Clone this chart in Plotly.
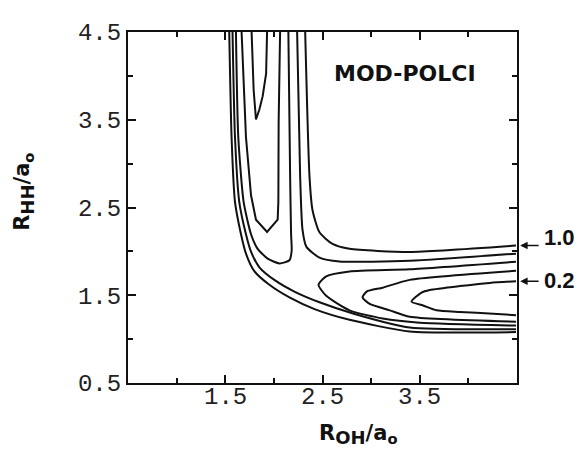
import plotly.graph_objects as go

# Contour levels (labels on the right)
label_levels = ["1.0", "0.2"]
label_y = [2.066, 1.660]
label_shift = [8, 1]

# Vertical-valley closed loops
c02v_x = [1.771, 1.781, 1.792, 1.816, 1.851, 1.885, 1.920, 1.930]
c02v_y = [4.5, 4.15, 3.839, 3.503, 3.617, 3.769, 4.024, 4.5]

c04v_x = [1.668, 1.713, 1.765, 1.816, 1.930, 2.039, 2.046, 2.049, 2.064]
c04v_y = [4.5, 3.303, 2.639, 2.361, 2.221, 2.361, 2.564, 3.470, 4.5]

c06v_x = [1.610, 1.634, 1.689, 1.765, 1.833, 1.936, 2.057, 2.160, 2.183, 2.177, 2.167, 2.149]
c06v_y = [4.5, 3.303, 2.564, 2.195, 2.029, 1.918, 1.863, 1.899, 2.010, 2.195, 2.860, 4.5]

# Horizontal-valley closed loops
c06h_x = [4.49, 3.397, 2.778, 2.538, 2.459, 2.538, 2.778, 3.119, 3.500, 4.49]
c06h_y = [1.882, 1.796, 1.771, 1.716, 1.619, 1.494, 1.328, 1.235, 1.187, 1.154]

c04h_x = [4.49, 3.397, 3.119, 2.954, 2.912, 2.985, 3.191, 3.397, 4.49]
c04h_y = [1.778, 1.675, 1.586, 1.542, 1.475, 1.401, 1.328, 1.254, 1.198]

c02h_x = [4.49, 4.222, 3.912, 3.603, 3.518, 3.415, 3.534, 3.672, 3.912, 4.256, 4.49]
c02h_y = [1.660, 1.641, 1.605, 1.560, 1.530, 1.427, 1.383, 1.328, 1.309, 1.290, 1.272]

# Inner (saddle side) open contours
c08i_x = [2.239, 2.270, 2.294, 2.335, 2.469, 2.675, 3.397, 4.49]
c08i_y = [4.5, 2.860, 2.251, 2.051, 1.929, 1.885, 1.893, 1.974]

c10i_x = [2.322, 2.366, 2.397, 2.469, 2.603, 2.778, 3.397, 4.49]
c10i_y = [4.5, 2.860, 2.472, 2.217, 2.085, 2.029, 1.993, 2.066]

# Outer (repulsive wall) open contours
c08o_x = [1.575, 1.600, 1.644, 1.713, 1.765, 1.851, 2.005, 2.211, 2.469, 2.830, 3.397, 4.49]
c08o_y = [4.5, 3.303, 2.564, 2.195, 1.996, 1.819, 1.675, 1.542, 1.420, 1.287, 1.132, 1.113]

c10o_x = [1.541, 1.565, 1.600, 1.662, 1.713, 1.799, 1.954, 2.160, 2.418, 2.778, 3.397, 4.49]
c10o_y = [4.5, 3.303, 2.564, 2.195, 1.974, 1.774, 1.619, 1.475, 1.342, 1.220, 1.087, 1.080]

x_ticks = [1.5, 2.5, 3.5]
x_minor = [1.0, 2.0, 3.0, 4.0]
y_ticks = [0.5, 1.5, 2.5, 3.5, 4.5]
y_minor = [1.0, 2.0, 3.0, 4.0]

curves = [
    (c02v_x, c02v_y, "linear"),
    (c04v_x, c04v_y, "linear"),
    (c06v_x, c06v_y, "spline"),
    (c06h_x, c06h_y, "spline"),
    (c04h_x, c04h_y, "spline"),
    (c02h_x, c02h_y, "spline"),
    (c08i_x, c08i_y, "spline"),
    (c10i_x, c10i_y, "spline"),
    (c08o_x, c08o_y, "spline"),
    (c10o_x, c10o_y, "spline"),
]

fig = go.Figure()
for cx, cy, shp in curves:
    fig.add_trace(go.Scatter(
        x=cx, y=cy, mode="lines",
        line=dict(color="#111111", width=2, shape=shp, smoothing=0.6),
        showlegend=False, hoverinfo="skip"))

tick_font = dict(family="Liberation Mono", size=24, color="#222222")

fig.update_xaxes(
    range=[0.5, 4.5], tickmode="array", tickvals=x_ticks,
    showticklabels=False,
    ticks="inside", ticklen=8, tickwidth=1.5, tickcolor="#111111",
    showline=True, linewidth=2, linecolor="#111111", mirror="allticks",
    showgrid=False, zeroline=False,
    minor=dict(tickvals=x_minor, ticks="inside", ticklen=5, tickwidth=1.5, tickcolor="#111111"),
)
fig.update_yaxes(
    range=[0.5, 4.5], tickmode="array", tickvals=y_ticks,
    ticktext=[f"{v:.1f}" for v in y_ticks],
    ticks="inside", ticklen=8, tickwidth=1.5, tickcolor="#111111",
    showline=True, linewidth=2, linecolor="#111111", mirror="allticks",
    showgrid=False, zeroline=False, tickfont=tick_font,
    minor=dict(tickvals=y_minor, ticks="inside", ticklen=5, tickwidth=1.5, tickcolor="#111111"),
)

bold = dict(family="DejaVu Sans", size=21, color="#111111")
y_title = "<b>R<sub><span style='font-size:18px'>HH</span></sub>/a<sub>o</sub></b>"
x_title = "<b>R<sub><span style='font-size:18px'>OH</span></sub>/a<sub>o</sub></b>"
annotations = [
    dict(text="<b>MOD-POLCI</b>", x=0.712, y=0.882, xref="paper", yref="paper",
         xanchor="center", yanchor="middle",
         showarrow=False, font=dict(family="DejaVu Sans", size=22, color="#111111")),
    dict(text=y_title, x=-0.267, y=0.545, xref="paper", yref="paper",
         xanchor="center", yanchor="middle",
         textangle=-90, showarrow=False, font=bold),
    dict(text=x_title, x=0.591, y=-0.148, xref="paper", yref="paper",
         xanchor="center", yanchor="middle",
         showarrow=False, font=bold),
]
# x-axis tick labels, placed just under the frame
for v in x_ticks:
    annotations.append(dict(text=f"{v:.1f}", x=v, y=-0.042, xref="x", yref="paper",
                            xanchor="center", yanchor="middle", showarrow=False,
                            font=tick_font))
for lab, ly, sh in zip(label_levels, label_y, label_shift):
    annotations.append(dict(text="", x=1.008, y=ly, xref="paper", yref="y",
                            showarrow=True, ax=20, ay=0, arrowhead=2, arrowsize=1,
                            arrowwidth=1.5, arrowcolor="#111111"))
    annotations.append(dict(text=f"<b>{lab}</b>", x=1.065, y=ly, xref="paper", yref="y",
                            xanchor="left", yanchor="middle", yshift=sh, showarrow=False,
                            font=dict(family="Liberation Sans", size=22, color="#111111")))

fig.update_layout(
    width=584, height=451,
    margin=dict(l=120, r=75, t=14, b=76),
    paper_bgcolor="white", plot_bgcolor="white",
    annotations=annotations,
)

fig.write_html("out.html")
